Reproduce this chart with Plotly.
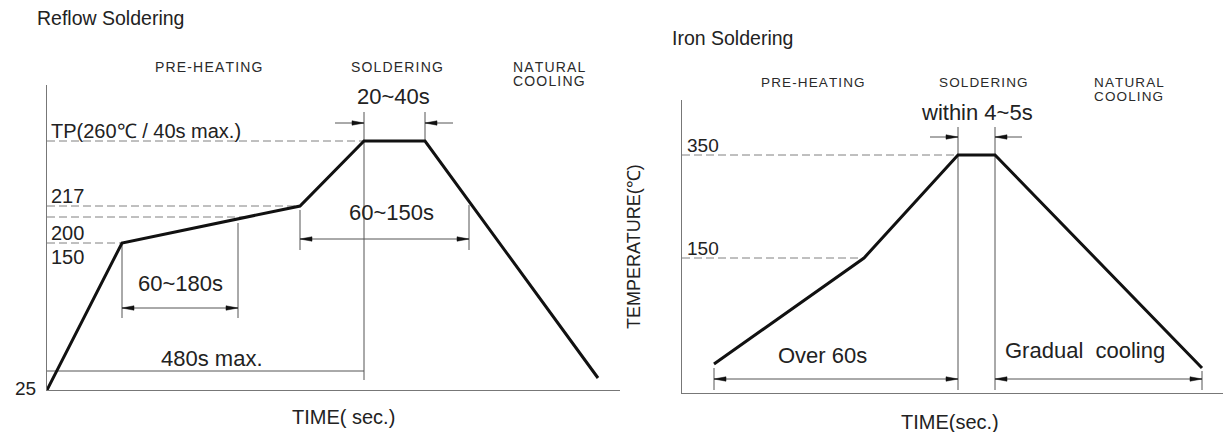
import plotly.graph_objects as go

# ---------------- data (schematic units) ----------------
# Reflow soldering profile: time position vs. temperature level
reflow_time = [0, 75, 253, 317, 378, 551]
reflow_level = [0, 147, 184, 249, 249, 12]

# dashed guide lines (level, end time)
reflow_guide_level = [249, 184, 173, 147]
reflow_guide_end = [317, 253, 200, 75]

# level labels
reflow_label_text = ["TP(260℃ / 40s max.)", "217", "200", "150"]
reflow_label_y = [259, 194, 157, 133]

# Iron soldering profile
iron_time = [32, 182, 276, 313, 520]
iron_level = [29, 135, 238, 238, 25]
iron_guide_level = [238, 135]
iron_guide_end = [276, 182]
iron_label_text = ["350", "150"]
iron_label_y = [248, 145]

phase_labels = ["PRE-HEATING", "SOLDERING", "NATURAL", "COOLING"]

reflow_dims = [("20~40s", 346, 293), ("60~150s", 344, 177),
               ("60~180s", 133, 107), ("480s max.", 165, 32)]
iron_dims = [("within 4~5s", 295, 280), ("Over 60s", 140, 38),
             ("Gradual  cooling", 403, 43)]

TXT = "#222222"
LINE = "#555555"
FONT = "Liberation Sans, Arial, sans-serif"

# page body has an 8px default margin; size the figure to fit the window
OFF = 8
W, H = 1231 - OFF, 432 - OFF
# panel origins (pixel position of axis corner in the window) and extents
L_ORIG, L_RIGHT, L_TOP = (47, 390), 620, 85
R_ORIG, R_RIGHT, R_TOP = (682, 393), 1231, 100

fig = go.Figure()


def add_line(xs, ys, ax, color=LINE, width=1, dash=None):
    fig.add_trace(go.Scatter(
        x=xs, y=ys, mode="lines", xaxis=ax[0], yaxis=ax[1],
        line=dict(color=color, width=width, dash=dash),
        hoverinfo="skip", showlegend=False))


def add_head(tip_x, y, direction, ax, length=12, half=2.2):
    bx = tip_x - direction * length
    fig.add_trace(go.Scatter(
        x=[tip_x, bx, bx, tip_x], y=[y, y + half, y - half, y],
        mode="lines", fill="toself", fillcolor="#111111",
        line=dict(color="#111111", width=0.5), xaxis=ax[0], yaxis=ax[1],
        hoverinfo="skip", showlegend=False))


L = ("x", "y", L_ORIG)
R = ("x2", "y2", R_ORIG)

# ---------------- reflow panel ----------------
for lv, end in zip(reflow_guide_level, reflow_guide_end):
    add_line([0, end], [lv, lv], L, color="#808080", dash="8px,4px")

add_line([reflow_time[3], reflow_time[3]], [10, 278], L)
add_line([reflow_time[4], reflow_time[4]], [reflow_level[4], 278], L)
add_line([288, reflow_time[3]], [267, 267], L)
add_line([406, reflow_time[4]], [267, 267], L)
add_head(reflow_time[3], 267, 1, L)
add_head(reflow_time[4], 267, -1, L)

add_line([reflow_time[2], reflow_time[2]], [140, 180], L)
add_line([422, 422], [140, 185], L)
add_line([reflow_time[2], 422], [151, 151], L)
add_head(reflow_time[2], 151, -1, L)
add_head(422, 151, 1, L)

add_line([reflow_time[1], reflow_time[1]], [72, reflow_level[1]], L)
add_line([191, 191], [72, 167], L)
add_line([reflow_time[1], 191], [82, 82], L)
add_head(reflow_time[1], 82, -1, L)
add_head(191, 82, 1, L)

add_line([0, reflow_time[3]], [19, 19], L)

add_line(reflow_time, reflow_level, L, color="#111111", width=3)

# ---------------- iron panel ----------------
for lv, end in zip(iron_guide_level, iron_guide_end):
    add_line([0, end], [lv, lv], R, color="#808080", dash="8px,4px")

add_line([iron_time[2], iron_time[2]], [3, 266], R)
add_line([iron_time[3], iron_time[3]], [3, 266], R)
add_line([248, iron_time[2]], [256, 256], R)
add_line([340, iron_time[3]], [256, 256], R)
add_head(iron_time[2], 256, 1, R)
add_head(iron_time[3], 256, -1, R)

add_line([iron_time[0], iron_time[0]], [3, 25], R)
add_line([iron_time[4], iron_time[4]], [3, 22], R)
add_line([iron_time[0], iron_time[2]], [14, 14], R)
add_head(iron_time[0], 14, -1, R)
add_head(iron_time[2], 14, 1, R)
add_line([iron_time[3], iron_time[4]], [14, 14], R)
add_head(iron_time[3], 14, -1, R)
add_head(iron_time[4], 14, 1, R)

add_line(iron_time, iron_level, R, color="#111111", width=3)

# ---------------- annotations (paper coords, from panel units) ----------------
ann = []


def text(t, x, y, ax, size, xanchor="center", color=TXT, angle=0):
    ox, oy = ax[2]
    xp = (ox + x - OFF) / W
    yp = 1 - (oy - y - OFF) / H
    ann.append(dict(text=t, x=xp, y=yp, xref="paper", yref="paper", showarrow=False,
                    xanchor=xanchor, yanchor="middle", textangle=angle,
                    font=dict(family=FONT, size=size, color=color)))


def spaced(s):
    # slight letter spacing, as in the original small-caps labels
    return "\u200a".join(s)


PH = "#2a2a2a"
text("Reflow Soldering", -12, 372, L, 19.5, xanchor="left")
text(spaced(phase_labels[0]), 161, 323, L, 14, color=PH)
text(spaced(phase_labels[1]), 350, 323, L, 14, color=PH)
text(spaced(phase_labels[2]), 464, 323, L, 14, xanchor="left", color=PH)
text(spaced(phase_labels[3]), 464, 309, L, 14, xanchor="left", color=PH)
for t, y in zip(reflow_label_text, reflow_label_y):
    text(t, 2, y, L, 20, xanchor="left")
text("25", -9, 2, L, 19, xanchor="right")
for t, x, y in reflow_dims:
    text(t, x, y, L, 22)
text("TIME( sec.)", 296, -27, L, 20)

text("Iron Soldering", -12, 355, R, 19.5, xanchor="left")
text(spaced(phase_labels[0]), 131, 310, R, 13.5, color=PH)
text(spaced(phase_labels[1]), 301, 310, R, 13.5, color=PH)
text(spaced(phase_labels[2]), 410, 310, R, 13.5, xanchor="left", color=PH)
text(spaced(phase_labels[3]), 410, 296, R, 13.5, xanchor="left", color=PH)
for t, y in zip(iron_label_text, iron_label_y):
    text(t, 3, y, R, 19, xanchor="left")
for t, x, y in iron_dims:
    text(t, x, y, R, 22)
text("TIME(sec.)", 268, -29, R, 20)
text("TEMPERATURE(℃)", -48, 146, R, 18, angle=-90)

axis_common = dict(showgrid=False, zeroline=False, showticklabels=False, ticks="",
                   showline=True, linecolor="#777777", linewidth=1, fixedrange=True)


def xdom(x0, x1):
    return [(x0 - OFF) / W, min(1.0, (x1 - OFF) / W)]


def ydom(bottom, top):
    return [1 - (bottom - OFF) / H, 1 - (top - OFF) / H]


fig.update_layout(
    width=W, height=H, margin=dict(l=0, r=0, t=0, b=0),
    paper_bgcolor="white", plot_bgcolor="white",
    xaxis=dict(domain=xdom(L_ORIG[0], L_RIGHT), range=[0, L_RIGHT - L_ORIG[0]], anchor="y", **axis_common),
    yaxis=dict(domain=ydom(L_ORIG[1], L_TOP), range=[0, L_ORIG[1] - L_TOP], anchor="x", **axis_common),
    xaxis2=dict(domain=xdom(R_ORIG[0], R_RIGHT), range=[0, R_RIGHT - R_ORIG[0]], anchor="y2", **axis_common),
    yaxis2=dict(domain=ydom(R_ORIG[1], R_TOP), range=[0, R_ORIG[1] - R_TOP], anchor="x2", **axis_common),
    annotations=ann,
    showlegend=False,
)

fig.write_html("out.html")
